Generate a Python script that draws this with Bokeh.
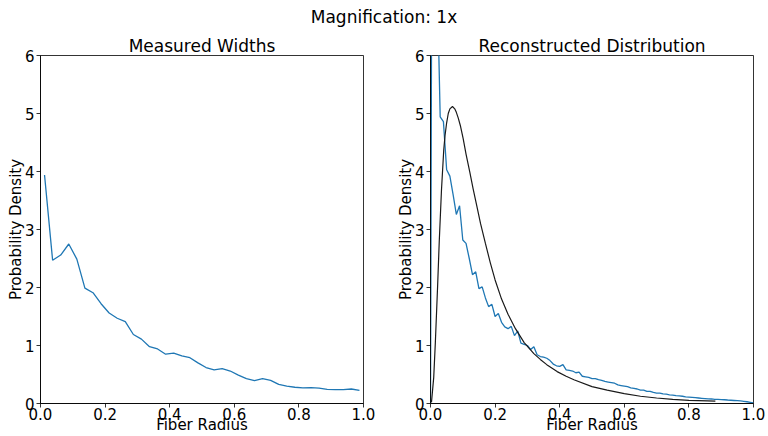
from bokeh.plotting import figure
from bokeh.layouts import row, column
from bokeh.models import Div, Range1d, FixedTicker, NumeralTickFormatter
from bokeh.embed import file_html
from bokeh.resources import INLINE

SUPTITLE = "Magnification: 1x"
LEFT_TITLE = "Measured Widths"
RIGHT_TITLE = "Reconstructed Distribution"
X_LABEL = "Fiber Radius"
Y_LABEL = "Probability Density"
X_TICKS = [0.0, 0.2, 0.4, 0.6, 0.8, 1.0]
Y_TICKS = [0, 1, 2, 3, 4, 5, 6]

# Measured widths (left panel)
measured_x = [0.0125, 0.0375, 0.0625, 0.0875, 0.1125, 0.1375, 0.1625, 0.1875,
              0.2125, 0.2375, 0.2625, 0.2875, 0.3125, 0.3375, 0.3625, 0.3875,
              0.4125, 0.4375, 0.4625, 0.4875, 0.5125, 0.5375, 0.5625, 0.5875,
              0.6125, 0.6375, 0.6625, 0.6875, 0.7125, 0.7375, 0.7625, 0.7875,
              0.8125, 0.8375, 0.8625, 0.8875, 0.9125, 0.9375, 0.9625, 0.9875]
measured_y = [3.94, 2.47, 2.56, 2.75, 2.49, 1.99, 1.91, 1.72,
              1.56, 1.47, 1.41, 1.19, 1.11, 0.98, 0.94, 0.85,
              0.87, 0.82, 0.79, 0.70, 0.62, 0.58, 0.60, 0.56,
              0.49, 0.43, 0.395, 0.43, 0.40, 0.33, 0.30, 0.28,
              0.27, 0.275, 0.265, 0.245, 0.24, 0.24, 0.25, 0.225]

# Reconstructed distribution (right panel, blue)
recon_x = [0.00, 0.01, 0.02, 0.03, 0.04, 0.05, 0.06, 0.07, 0.08, 0.09,
           0.10, 0.11, 0.12, 0.13, 0.14, 0.15, 0.16, 0.17, 0.18, 0.19,
           0.20, 0.21, 0.22, 0.23, 0.24, 0.25, 0.26, 0.27, 0.28, 0.29,
           0.30, 0.31, 0.32, 0.33, 0.34, 0.35, 0.36, 0.37, 0.38, 0.39,
           0.40, 0.41, 0.42, 0.43, 0.44, 0.45, 0.46, 0.47, 0.48, 0.49,
           0.50, 0.51, 0.52, 0.53, 0.54, 0.55, 0.56, 0.57, 0.58, 0.59,
           0.60, 0.61, 0.62, 0.63, 0.64, 0.65, 0.66, 0.67, 0.68, 0.69,
           0.70, 0.71, 0.72, 0.73, 0.74, 0.75, 0.76, 0.77, 0.78, 0.79,
           0.80, 0.81, 0.82, 0.83, 0.84, 0.85, 0.86, 0.87, 0.88, 0.89,
           0.90, 0.91, 0.92, 0.93, 0.94, 0.95, 0.96, 0.97, 0.98, 0.99,
           1.00]
recon_y = [0.0, 20.0, 7.5, 4.94, 4.86, 4.03, 3.92, 3.60, 3.26, 3.41,
           2.82, 2.76, 2.50, 2.22, 2.27, 1.98, 2.01, 1.82, 1.67, 1.71,
           1.50, 1.55, 1.40, 1.32, 1.29, 1.33, 1.17, 1.25, 1.04, 1.02,
           1.00, 0.93, 0.98, 0.84, 0.81, 0.80, 0.78, 0.74, 0.68, 0.65,
           0.64, 0.67, 0.58, 0.57, 0.56, 0.53, 0.54, 0.47, 0.46, 0.45,
           0.43, 0.43, 0.41, 0.40, 0.38, 0.37, 0.36, 0.35, 0.32, 0.31,
           0.30, 0.29, 0.27, 0.26, 0.25, 0.23, 0.23, 0.21, 0.21, 0.19,
           0.18, 0.18, 0.165, 0.16, 0.15, 0.145, 0.135, 0.13, 0.125, 0.115,
           0.11, 0.105, 0.10, 0.095, 0.09, 0.085, 0.08, 0.078, 0.072, 0.07,
           0.068, 0.065, 0.06, 0.056, 0.052, 0.048, 0.044, 0.038, 0.03, 0.02,
           0.01]

# Fitted distribution (right panel, black)
fit_x = [0.003, 0.010, 0.015, 0.022, 0.027, 0.034, 0.041, 0.045, 0.050, 0.055,
         0.060, 0.068, 0.075, 0.080, 0.086, 0.093, 0.101, 0.110, 0.122, 0.132,
         0.142, 0.155, 0.170, 0.185, 0.200, 0.220, 0.240, 0.263, 0.290, 0.320,
         0.340, 0.360, 0.392, 0.420, 0.444, 0.500, 0.547, 0.600, 0.650, 0.700,
         0.750, 0.800, 0.857, 0.882]
fit_y = [0.02, 0.45, 1.05, 2.02, 2.78, 3.68, 4.37, 4.62, 4.84, 5.00,
         5.08, 5.12, 5.08, 5.02, 4.92, 4.78, 4.57, 4.30, 3.98, 3.70,
         3.44, 3.10, 2.76, 2.43, 2.13, 1.80, 1.54, 1.29, 1.05, 0.86,
         0.76, 0.67, 0.55, 0.47, 0.41, 0.29, 0.23, 0.17, 0.125, 0.095,
         0.07, 0.055, 0.045, 0.04]

FONT = "DejaVu Sans"
BLUE = "#1f77b4"


def make_panel(title, width, border_left, border_right):
    p = figure(width=width, height=406, output_backend="svg", toolbar_location=None,
               x_range=Range1d(0, 1), y_range=Range1d(0, 6),
               min_border_left=border_left, min_border_right=border_right,
               min_border_top=25, min_border_bottom=32)
    p.title.text = title
    p.title.text_font = FONT
    p.title.text_font_size = "17px"
    p.title.text_font_style = "normal"
    p.title.text_color = "black"
    p.title.align = "center"
    p.title.standoff = 0
    p.grid.visible = False
    p.outline_line_color = "black"
    p.outline_line_width = 0.8
    p.background_fill_color = "white"
    p.border_fill_color = "white"
    for ax in (p.xaxis, p.yaxis):
        ax.axis_line_color = "black"
        ax.axis_line_width = 0.8
        ax.major_tick_line_color = "black"
        ax.major_tick_line_width = 0.8
        ax.major_tick_out = 4
        ax.major_tick_in = 0
        ax.minor_tick_line_color = None
        ax.major_label_text_font = FONT
        ax.major_label_text_font_size = "15px"
        ax.major_label_text_color = "black"
        ax.axis_label_text_font = FONT
        ax.axis_label_text_font_size = "15px"
        ax.axis_label_text_font_style = "normal"
        ax.axis_label_text_color = "black"
    p.xaxis.ticker = FixedTicker(ticks=X_TICKS)
    p.yaxis.ticker = FixedTicker(ticks=Y_TICKS)
    p.xaxis.formatter = NumeralTickFormatter(format="0.0")
    p.yaxis.formatter = NumeralTickFormatter(format="0")
    p.xaxis.axis_label = X_LABEL
    p.yaxis.axis_label = Y_LABEL
    p.xaxis.major_label_standoff = 0
    p.xaxis.axis_label_standoff = -7
    p.yaxis.major_label_standoff = 2
    p.yaxis.axis_label_standoff = -3
    return p


p1 = make_panel(LEFT_TITLE, 390, 40, 27)
p1.line(measured_x, measured_y, line_color=BLUE, line_width=1.3)

p2 = make_panel(RIGHT_TITLE, 378, 40, 15)
p2.line(recon_x, recon_y, line_color=BLUE, line_width=1.3)
p2.line(fit_x, fit_y, line_color="#1a1a1a", line_width=1.2)

head = Div(text='<div style="padding-top:7px;font-size:17px;line-height:20px;'
                'font-family:\'DejaVu Sans\';text-align:center;color:black;width:768px;">'
                + SUPTITLE + '</div>', width=768, height=30, margin=0)

layout = column(head, row(p1, p2),
                styles={"position": "absolute", "left": "0px", "top": "0px"})

open("out.html", "w").write(file_html(layout, INLINE))
